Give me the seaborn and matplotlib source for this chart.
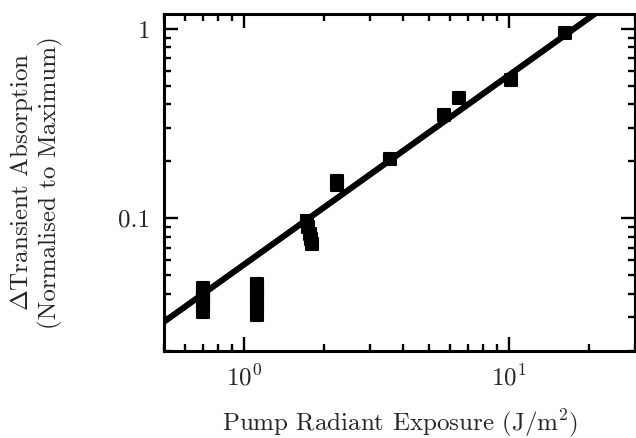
import numpy as np
import pandas as pd
import matplotlib
matplotlib.use("Agg")
import matplotlib.pyplot as plt
import matplotlib.ticker as mticker
import seaborn as sns

# ---- data ----
exposure = [0.70, 0.70, 0.70, 0.70, 0.70, 0.70,
            1.12, 1.12, 1.12, 1.12, 1.12, 1.12,
            1.73, 1.75, 1.77, 1.79, 1.80,
            2.24, 2.24,
            3.55,
            5.7,
            6.5,
            10.2,
            16.3]
absorption = [0.032, 0.035, 0.037, 0.039, 0.041, 0.043,
              0.031, 0.034, 0.037, 0.040, 0.043, 0.045,
              0.097, 0.090, 0.083, 0.078, 0.073,
              0.150, 0.157,
              0.205,
              0.35,
              0.43,
              0.54,
              0.95]
rel_err = 0.03
fit_prefactor = 0.057
fit_exponent = 1.0
fit_x = [0.5, 30.0]

x_ticks = [1, 10]
x_ticklabels = [r"$10^0$", r"$10^1$"]
y_ticks = [0.1, 1]
y_ticklabels = ["0.1", "1"]

df = pd.DataFrame({"x": exposure, "y": absorption})
fit_df = pd.DataFrame({"x": fit_x,
                       "y": [fit_prefactor * v ** fit_exponent for v in fit_x]})

sns.set_style("ticks")
plt.rcParams["font.family"] = ["serif"]
plt.rcParams["font.serif"] = ["cmr10", "DejaVu Serif"]
plt.rcParams["mathtext.fontset"] = "cm"
plt.rcParams["axes.formatter.use_mathtext"] = True
plt.rcParams["axes.unicode_minus"] = False

fig = plt.figure(figsize=(6.36, 4.38), dpi=100)
ax = fig.add_axes([0.258, 0.199, 0.741, 0.769])

sns.lineplot(data=fit_df, x="x", y="y", ax=ax, color="black", lw=4.4, zorder=2)
ax.errorbar(df["x"], df["y"], yerr=np.array(df["y"]) * rel_err, fmt="none",
            ecolor="black", elinewidth=2, capsize=4.5, capthick=2, zorder=3)
sns.scatterplot(data=df, x="x", y="y", ax=ax, marker="s", s=80, color="black",
                edgecolor="black", linewidth=1.5, zorder=4)

ax.set_xscale("log")
ax.set_yscale("log")
ax.set_xlim(0.5, 30)
ax.set_ylim(0.02, 1.2)

ax.xaxis.set_major_locator(mticker.FixedLocator(x_ticks))
ax.xaxis.set_major_formatter(mticker.FixedFormatter(x_ticklabels))
ax.yaxis.set_major_locator(mticker.FixedLocator(y_ticks))
ax.yaxis.set_major_formatter(mticker.FixedFormatter(y_ticklabels))
ax.xaxis.set_minor_locator(mticker.LogLocator(base=10, subs=np.arange(2, 10)))
ax.yaxis.set_minor_locator(mticker.LogLocator(base=10, subs=np.arange(2, 10)))
ax.xaxis.set_minor_formatter(mticker.NullFormatter())
ax.yaxis.set_minor_formatter(mticker.NullFormatter())

ax.tick_params(which="both", direction="in", top=True, right=True,
               color="black", labelsize=18)
ax.tick_params(which="major", length=10, width=1.7, pad=10)
ax.tick_params(which="minor", length=5, width=1.7)
for s in ax.spines.values():
    s.set_linewidth(2.2)
    s.set_color("black")

ax.set_xlabel("Pump Radiant Exposure (J/m$^2$)", fontsize=18, labelpad=12)
ax.set_ylabel("$\\Delta$Transient Absorption\n(Normalised to Maximum)",
              fontsize=18, labelpad=40, linespacing=1.15)

fig.savefig("out.png", dpi=100)
